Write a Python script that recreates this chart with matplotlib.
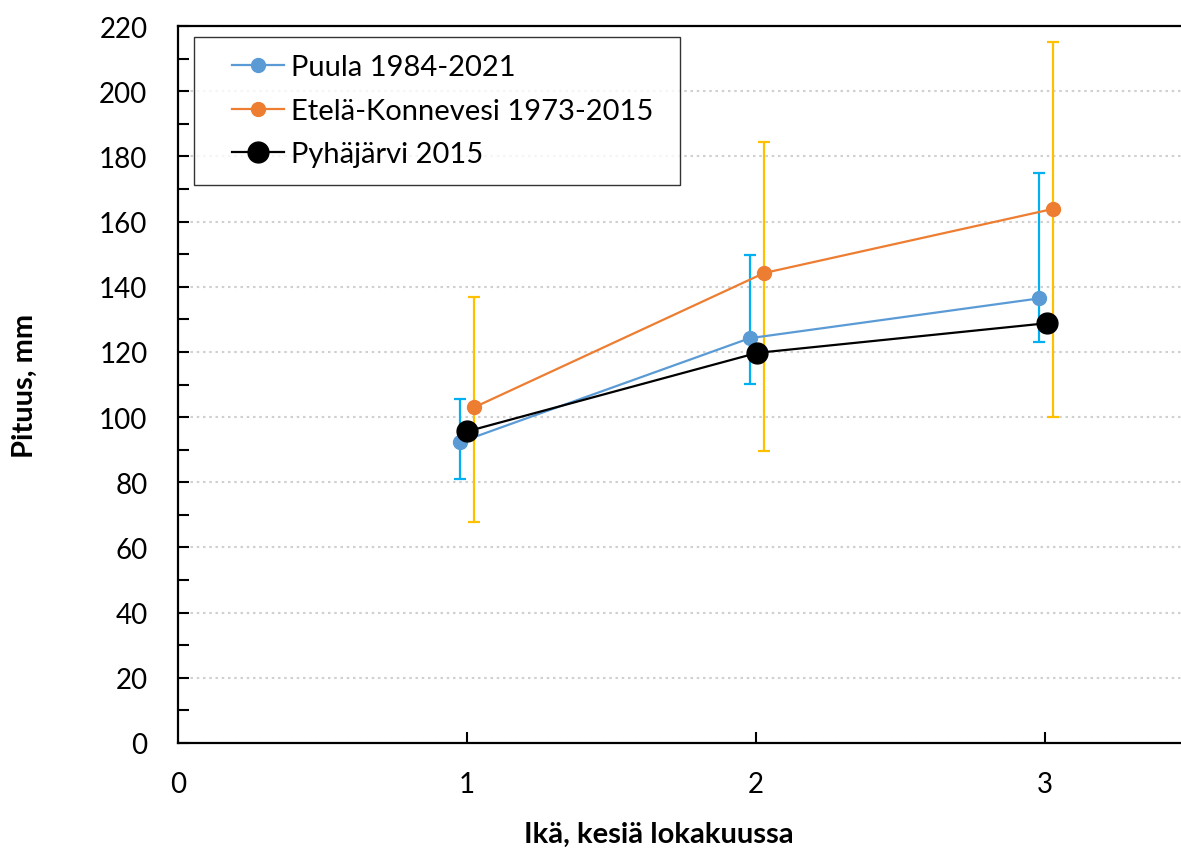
import matplotlib
matplotlib.use("Agg")
import matplotlib.pyplot as plt
from matplotlib.lines import Line2D
from matplotlib.legend_handler import HandlerLine2D
import numpy as np

plt.rcParams['font.family'] = ['Lato', 'DejaVu Sans']

# Puula 1984-2021
puula_x = [0.976, 1.978, 2.978]
puula_y = [92.3, 124.2, 136.4]
puula_lo = [81.0, 110.2, 123.0]
puula_hi = [105.6, 149.8, 174.9]

# Etelä-Konnevesi 1973-2015
etela_x = [1.025, 2.028, 3.029]
etela_y = [103.0, 144.2, 163.9]
etela_lo = [67.9, 89.7, 100.1]
etela_hi = [137.0, 184.5, 215.2]

# Pyhäjärvi 2015
pyha_x = [1.0, 2.004, 3.006]
pyha_y = [95.6, 119.7, 128.8]

fig = plt.figure(figsize=(11.81, 8.54), dpi=100)
ax = fig.add_axes([178/1181, 1 - 744/854, 1 - 178/1181, (744 - 27)/854])

# error bars
py = np.array(puula_y)
ax.errorbar(puula_x, py, yerr=[py - np.array(puula_lo), np.array(puula_hi) - py],
            fmt='none', ecolor='#00B0F0', elinewidth=1.6, capsize=4.3, capthick=1.6, zorder=2)
ey = np.array(etela_y)
ax.errorbar(etela_x, ey, yerr=[ey - np.array(etela_lo), np.array(etela_hi) - ey],
            fmt='none', ecolor='#FFC000', elinewidth=1.6, capsize=4.3, capthick=1.6, zorder=2)

ax.plot(puula_x, puula_y, '-o', color='#5B9BD5', lw=1.6, ms=10, label='Puula 1984-2021', zorder=3)
ax.plot(etela_x, etela_y, '-o', color='#ED7D31', lw=1.6, ms=10, label='Etelä-Konnevesi 1973-2015', zorder=3)
ax.plot(pyha_x, pyha_y, '-o', color='black', lw=1.6, ms=15, label='Pyhäjärvi 2015', zorder=4)

ax.set_xlim(0, (1181 - 178) / 289)
ax.set_ylim(0, 220)
ax.set_xticks([0, 1, 2, 3])
ax.set_yticks(np.arange(0, 221, 20))
ax.set_yticks(np.arange(0, 221, 10), minor=True)
ax.yaxis.grid(True, which='major', color='#D0D0D0', linestyle=(0, (1.2, 1.8)), lw=1.5)
ax.set_axisbelow(True)

ax.tick_params(axis='y', which='both', direction='in', length=8, width=1.5, labelsize=20, pad=22)
ax.tick_params(axis='x', direction='in', length=8, width=1.5, labelsize=20, pad=20)
ax.xaxis.get_major_ticks()[0].tick1line.set_visible(False)

for s in ['left', 'bottom', 'top']:
    ax.spines[s].set_linewidth(1.6)
ax.spines['right'].set_visible(False)

ax.set_ylabel('Pituus, mm', fontsize=21, fontweight='bold')
ax.yaxis.set_label_coords((38 - 178) / 1003, 0.5)
ax.set_xlabel('Ikä, kesiä lokakuussa', fontsize=21, fontweight='bold')
ax.xaxis.set_label_coords((659 - 178) / 1003, -0.108)

leg = ax.legend(loc='upper left', bbox_to_anchor=(16/1003, 0, 486/1003, (744 - 38)/717),
                mode='expand', fontsize=21, frameon=True, fancybox=False, edgecolor='black',
                borderpad=0.6, handlelength=2.48, handletextpad=0.24, labelspacing=0.6,
                borderaxespad=0, handler_map={Line2D: HandlerLine2D(xpad=0.69)})
leg.get_frame().set_linewidth(1.0)

fig.savefig('out.png', dpi=100)
